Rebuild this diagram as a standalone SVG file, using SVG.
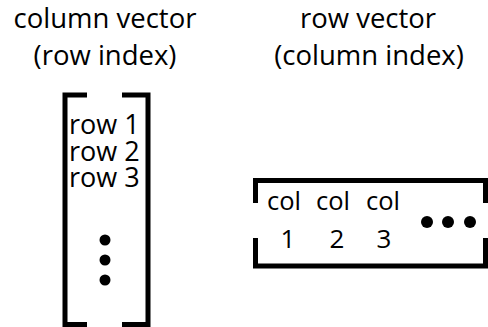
<svg xmlns="http://www.w3.org/2000/svg" width="488" height="327" viewBox="0 0 488 327">
  <style>
    text { font-family: "Open Sans", "Noto Sans", sans-serif; fill: #000; }
    .title { font-size: 27.5px; text-anchor: middle; }
    .entry { font-size: 27px; }
    .col { font-size: 25.5px; }
    .idx { font-size: 26px; text-anchor: middle; }
    .bracket { fill: none; stroke: #000; stroke-width: 5; stroke-linecap: butt; stroke-linejoin: miter; }
    .dot { fill: #000; }
  </style>
  <rect width="488" height="327" fill="#fff"/>

  <g id="col-title">
    <text class="title" x="105" y="28">column vector</text>
    <text class="title" x="105" y="65">(row index)</text>
  </g>
  <g id="row-title">
    <text class="title" x="368" y="28">row vector</text>
    <text class="title" x="369" y="65">(column index)</text>
  </g>

  <g id="column-vector">
    <path class="bracket" d="M87,95 H65 V324.5 H87"/>
    <path class="bracket" d="M122,95 H148 V324.5 H122"/>
    <text class="entry" x="69" y="134">row 1</text>
    <text class="entry" x="69" y="161">row 2</text>
    <text class="entry" x="69" y="187">row 3</text>
    <circle class="dot" cx="105" cy="240" r="5.5"/>
    <circle class="dot" cx="105" cy="260" r="5.5"/>
    <circle class="dot" cx="105" cy="280" r="5.5"/>
  </g>

  <g id="row-vector">
    <path class="bracket" d="M255.5,203 V180.5 H485.5 V203"/>
    <path class="bracket" d="M255.5,238 V266 H485.5 V238"/>
    <text class="col" x="267" y="210">col</text>
    <text class="col" x="316" y="210">col</text>
    <text class="col" x="366" y="210">col</text>
    <text class="idx" x="288" y="248">1</text>
    <text class="idx" x="337" y="248">2</text>
    <text class="idx" x="384" y="248">3</text>
    <circle class="dot" cx="427" cy="222" r="6"/>
    <circle class="dot" cx="448" cy="222" r="6"/>
    <circle class="dot" cx="470" cy="222" r="6"/>
  </g>
</svg>
